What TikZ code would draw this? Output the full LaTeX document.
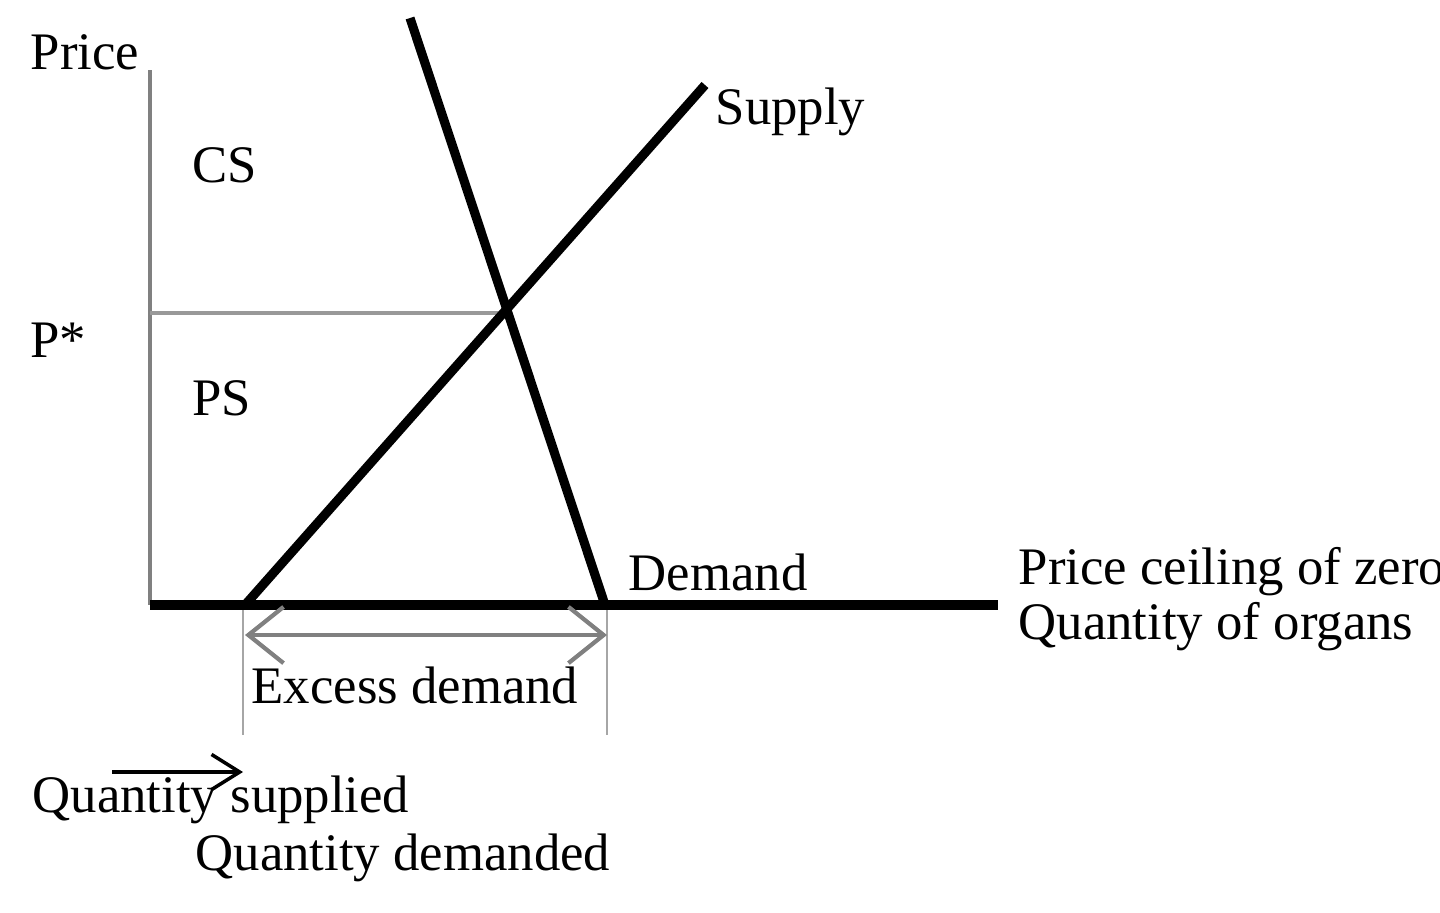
\documentclass[tikz,border=0pt]{standalone}
\usepackage{fontspec}
\setmainfont{Liberation Serif}
\usetikzlibrary{arrows.meta}
\begin{document}
\begin{tikzpicture}[x=0.01cm,y=-0.01cm,
    lbl/.style={font=\fontsize{15}{18}\selectfont, inner sep=0pt},
    axis/.style={draw=gray, line width=1.2pt},
    curve/.style={line width=2.6pt},
    guide/.style={draw=gray!70, line width=0.7pt}]
    \useasboundingbox (0,0) rectangle (1440,912);
    % points
    \coordinate (ytop) at (150,70);
    \coordinate (origin) at (150,605);
    \coordinate (xend) at (998,605);
    \coordinate (dtop) at (410,18);
    \coordinate (dbot) at (605,605);
    \coordinate (sbot) at (245,605);
    \coordinate (stop) at (705,85);
    \coordinate (pstar) at (150,313);
    \coordinate (eq) at (505,313);
    \coordinate (lt) at (243,610);
    \coordinate (lb) at (243,735);
    \coordinate (rt) at (607,610);
    \coordinate (rb) at (607,735);
    \coordinate (al) at (245,635);
    \coordinate (ar) at (607,635);
    \coordinate (qs1) at (112,772);
    \coordinate (qs2) at (243,772);
    % labels
    \node (price) [lbl] at (85,52) {Price};
    \node (pst) [lbl] at (58,340) {P*};
    \node (cs) [lbl] at (225,165) {CS};
    \node (ps) [lbl] at (222,398) {PS};
    \node (supply) [lbl, anchor=west] at (715,112) {Supply};
    \node (demand) [lbl, anchor=west] at (628,572) {Demand};
    \node (ceil) [lbl, anchor=west] at (1018,572) {Price ceiling of zero};
    \node (qorg) [lbl, anchor=west] at (1018,627) {Quantity of organs};
    \node (excess) [lbl] at (415,685) {Excess demand};
    \node (qsup) [lbl, anchor=west] at (32,800) {Quantity supplied};
    \node (qdem) [lbl, anchor=west] at (195,858) {Quantity demanded};
    % lines
    \draw[axis] (ytop) -- (origin);
    \draw[draw=gray!80, line width=1pt] (pstar) -- (eq);
    \draw[curve] (origin) -- (xend);
    \draw[curve] (dtop) -- (dbot);
    \draw[curve] (sbot) -- (stop);
    \draw[guide] (lt) -- (lb);
    \draw[guide] (rt) -- (rb);
    \draw[draw=gray, line width=1.2pt, {Straight Barb[length=10pt,width=16pt]}-{Straight Barb[length=10pt,width=16pt]}] (al) -- (ar);
    \draw[line width=1pt, -{Straight Barb[length=8pt,width=10pt]}] (qs1) -- (qs2);
\end{tikzpicture}
\end{document}
